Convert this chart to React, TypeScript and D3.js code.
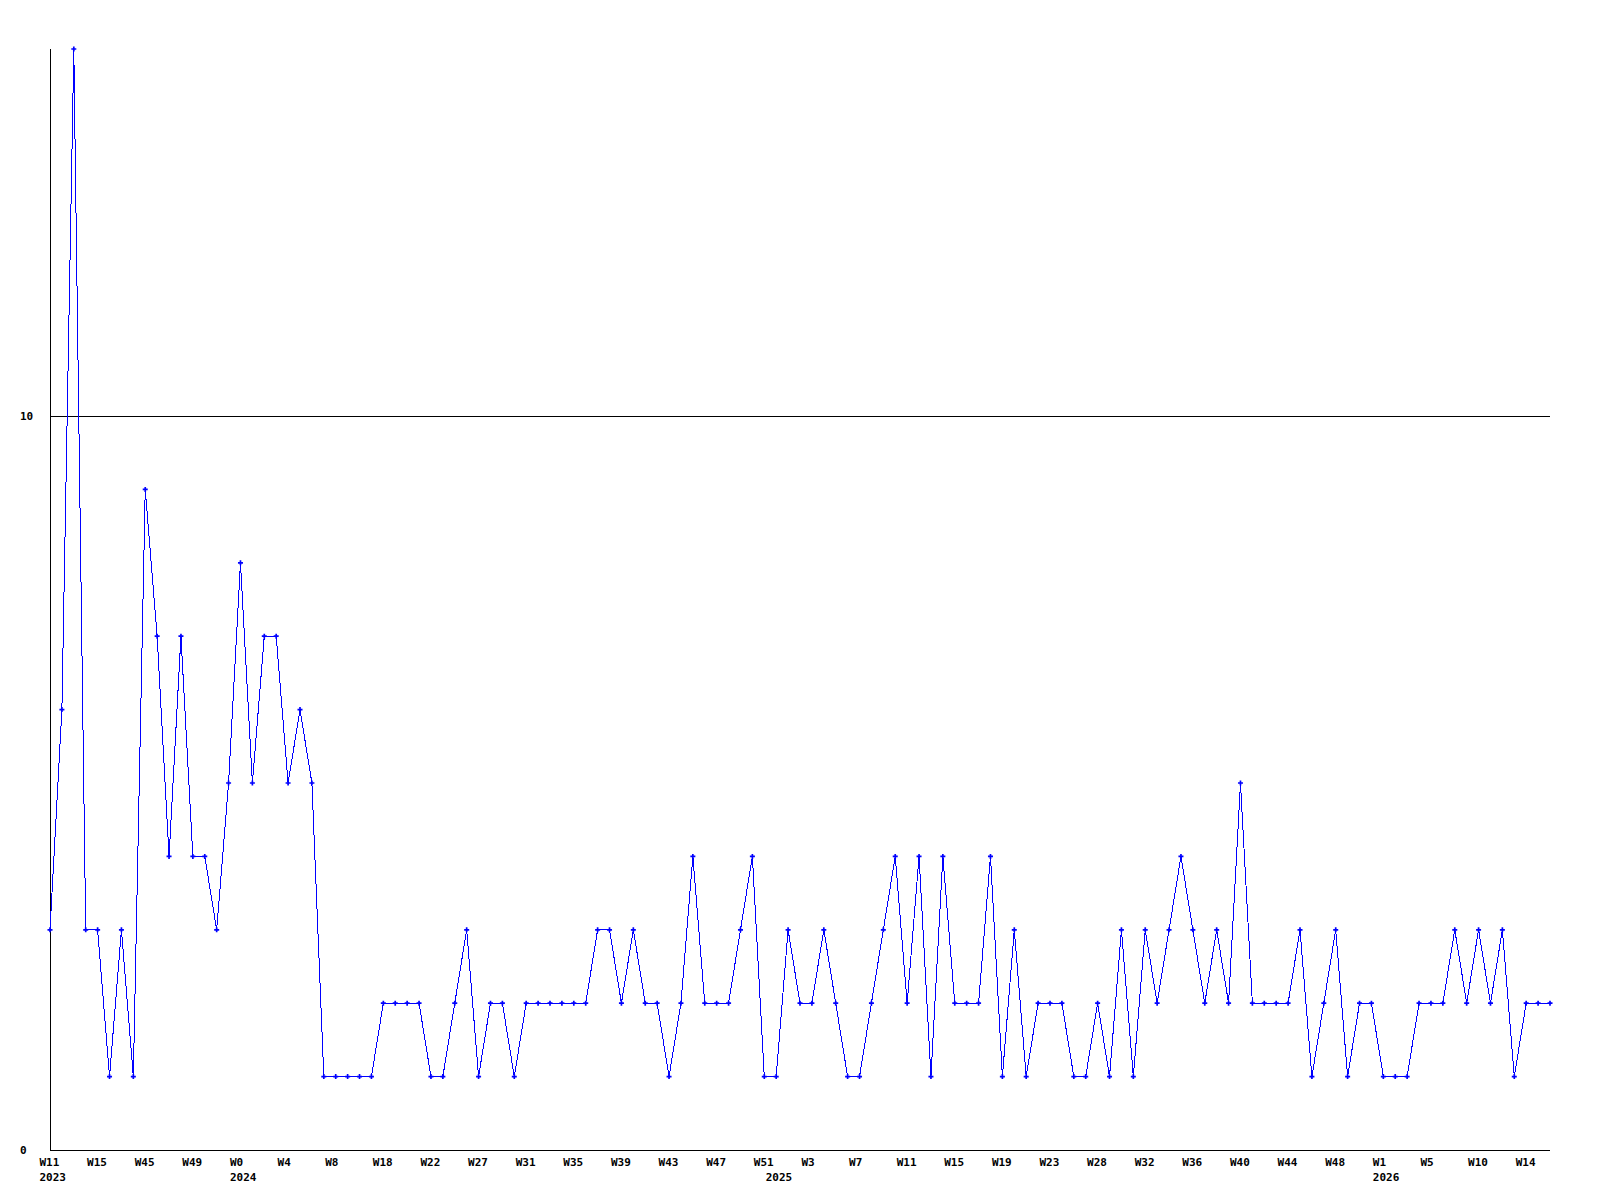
import React, { useEffect, useRef } from "react";
import * as d3 from "d3";

// weekly counts, one per data point (weeks without data are skipped)
const values: number[] = [
  3, 6, 15, 3, 3, 1, 3, 1, 9, 7, 4, 7, 4, 4, 3, 5, 8, 5, 7, 7, 5, 6, 5, 1,
  1, 1, 1, 1, 2, 2, 2, 2, 1, 1, 2, 3, 1, 2, 2, 1, 2, 2, 2, 2, 2, 2, 3, 3,
  2, 3, 2, 2, 1, 2, 4, 2, 2, 2, 3, 4, 1, 1, 3, 2, 2, 3, 2, 1, 1, 2, 3, 4,
  2, 4, 1, 4, 2, 2, 2, 4, 1, 3, 1, 2, 2, 2, 1, 1, 2, 1, 3, 1, 3, 2, 3, 4,
  3, 2, 3, 2, 5, 2, 2, 2, 2, 3, 1, 2, 3, 1, 2, 2, 1, 1, 1, 2, 2, 2, 3, 2,
  3, 2, 3, 1, 2, 2, 2,
];

// a week label on every 4th point
const weekLabels: string[] = [
  "W11", "W15", "W45", "W49", "W0", "W4", "W8", "W18", "W22", "W27", "W31",
  "W35", "W39", "W43", "W47", "W51", "W3", "W7", "W11", "W15", "W19", "W23",
  "W28", "W32", "W36", "W40", "W44", "W48", "W1", "W5", "W10", "W14",
];

// year label at the first point of each year
const yearLabels: { index: number; label: string }[] = [
  { index: 0, label: "2023" },
  { index: 16, label: "2024" },
  { index: 61, label: "2025" },
  { index: 112, label: "2026" },
];

const yTicks = [0, 10];

const App: React.FC = () => {
  const ref = useRef<SVGSVGElement>(null);

  useEffect(() => {
    const svg = d3.select(ref.current);
    svg.selectAll("*").remove();

    const left = 50,
      right = 1550,
      top = 49,
      bottom = 1150;
    const font = "'DejaVu Sans Mono', monospace";

    const x = d3
      .scalePoint<number>()
      .domain(values.map((_d, i) => i))
      .range([left, right]);
    const y = d3.scaleLinear().domain([0, 15]).range([bottom, top]);

    // horizontal reference line at 10 and the x axis
    svg
      .selectAll("line.grid")
      .data(yTicks)
      .enter()
      .append("line")
      .attr("class", "grid")
      .attr("x1", left)
      .attr("x2", right)
      .attr("y1", (d) => Math.round(y(d)) + 0.5)
      .attr("y2", (d) => Math.round(y(d)) + 0.5)
      .attr("stroke", "#000")
      .attr("shape-rendering", "crispEdges");

    svg
      .append("line")
      .attr("x1", left + 0.5)
      .attr("x2", left + 0.5)
      .attr("y1", top)
      .attr("y2", bottom)
      .attr("stroke", "#000")
      .attr("shape-rendering", "crispEdges");

    svg
      .selectAll("text.ylab")
      .data(yTicks)
      .enter()
      .append("text")
      .attr("class", "ylab")
      .attr("x", 20)
      .attr("y", (d) => y(d) + 4)
      .style("font-family", font)
      .style("font-size", "11px")
      .style("font-weight", "bold")
      .text((d) => String(d));

    svg
      .selectAll("text.week")
      .data(weekLabels)
      .enter()
      .append("text")
      .attr("class", "week")
      .attr("x", (_d, i) => x(i * 4)! - 10.5)
      .attr("y", bottom + 16)
      .style("font-family", font)
      .style("font-size", "11px")
      .style("font-weight", "bold")
      .text((d) => d);

    svg
      .selectAll("text.year")
      .data(yearLabels)
      .enter()
      .append("text")
      .attr("class", "year")
      .attr("x", (d) => x(d.index)! - 10.5)
      .attr("y", bottom + 31)
      .style("font-family", font)
      .style("font-size", "11px")
      .style("font-weight", "bold")
      .text((d) => d.label);

    const line = d3
      .line<number>()
      .x((_d, i) => x(i)!)
      .y((d) => y(d));

    svg
      .append("path")
      .datum(values)
      .attr("d", line)
      .attr("fill", "none")
      .attr("stroke", "#0000ff")
      .attr("stroke-width", 1)
      .attr("shape-rendering", "crispEdges");

    svg
      .selectAll("path.marker")
      .data(values)
      .enter()
      .append("path")
      .attr("class", "marker")
      .attr("d", d3.symbol(d3.symbolCross, 14)())
      .attr("transform", (d, i) => `translate(${x(i)},${y(d)})`)
      .attr("fill", "#0000ff");
  }, []);

  return (
    <svg
      ref={ref}
      width={1600}
      height={1200}
      style={{ position: "absolute", left: 0, top: 0, background: "#fff" }}
    />
  );
};

export default App;
